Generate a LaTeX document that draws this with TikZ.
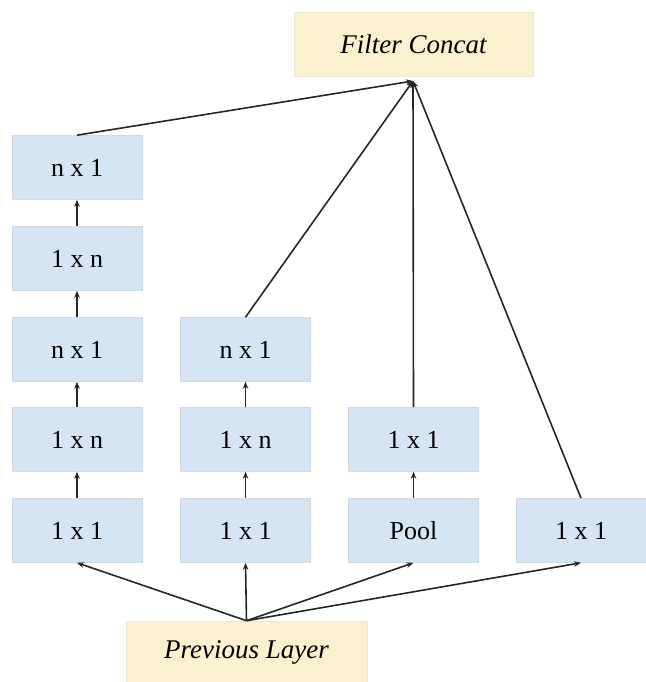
\documentclass[tikz,border=0pt]{standalone}
\usepackage{fontspec}
\setmainfont{Liberation Serif}
\newfontfamily\timesfam{Liberation Serif}
\usetikzlibrary{arrows.meta}
\definecolor{boxblue}{HTML}{D6E5F4}
\definecolor{boxyellow}{HTML}{FCF1CF}
\definecolor{linec}{HTML}{262626}
\begin{document}
\begin{tikzpicture}[x=1pt,y=-1pt,
  layer/.style={fill=boxblue, draw=boxblue!85!black!60!white, line width=0.6pt, minimum width=130pt, minimum height=64pt, inner sep=0pt, font=\timesfam\fontsize{26}{29}\selectfont},
  io/.style={fill=boxyellow, draw=boxyellow!85!black!50!white, line width=0.6pt, minimum height=64pt, inner sep=0pt, font=\timesfam\fontsize{27}{30}\selectfont\itshape},
  conn/.style={draw=linec, line width=1.6pt},
  arr/.style={conn, -{Stealth[length=7pt,width=5.5pt]}}]
\useasboundingbox (0,0) rectangle (645,682);
% I/O boxes
\node[io, minimum width=239pt] (concat) at (413.5,44) {Filter Concat};
\node[io, minimum width=241pt, minimum height=62pt] (prev) at (246.5,652) {Previous Layer};
% column 1
\node[layer] (a1) at (77,167.5) {n x 1};
\node[layer] (a2) at (77,258.5) {1 x n};
\node[layer] (a3) at (77,349.5) {n x 1};
\node[layer] (a4) at (77,439.5) {1 x n};
\node[layer] (a5) at (77,530.5) {1 x 1};
% column 2
\node[layer] (b3) at (245.5,349.5) {n x 1};
\node[layer] (b4) at (245.5,439.5) {1 x n};
\node[layer] (b5) at (245.5,530.5) {1 x 1};
% column 3
\node[layer] (c4) at (413.5,439.5) {1 x 1};
\node[layer] (c5) at (413.5,530.5) {Pool};
% column 4
\node[layer] (d5) at (581,530.5) {1 x 1};
% hub under Filter Concat
\coordinate (top) at (413,81);
% vertical arrows
\draw[arr] (a5) -- (a4);
\draw[arr] (a4) -- (a3);
\draw[arr] (a3) -- (a2);
\draw[arr] (a2) -- (a1);
\draw[arr] (b5) -- (b4);
\draw[arr] (b4) -- (b3);
\draw[arr] (c5) -- (c4);
% from previous layer
\draw[arr] (prev.north) -- (a5.south);
\draw[arr] (prev.north) -- (b5.south);
\draw[arr] (prev.north) -- (c5.south);
\draw[arr] (prev.north) -- (d5.south);
% to filter concat
\draw[arr] (a1.north) -- (top);
\draw[arr] (b3.north) -- (top);
\draw[arr] (c4.north) -- (top);
\draw[arr] (d5.north) -- (top);
\end{tikzpicture}
\end{document}
